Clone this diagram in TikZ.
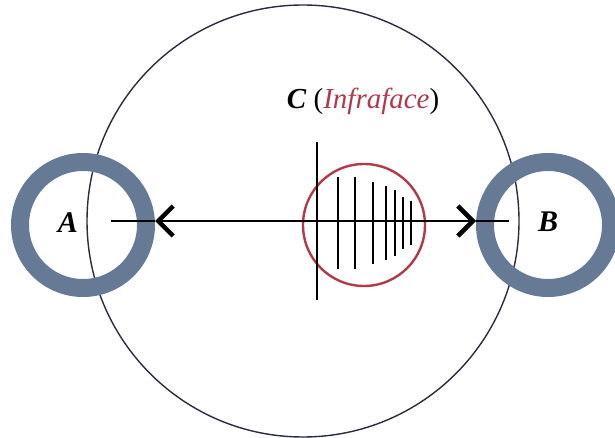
\documentclass[tikz,border=0pt]{standalone}
\usetikzlibrary{positioning, arrows.meta}
\usepackage{xcolor}
\usepackage{fontspec}
\setmainfont{Liberation Serif}
\definecolor{ringblue}{HTML}{667A96}
\definecolor{infrared}{HTML}{B03A4A}
\definecolor{outline}{HTML}{2A2A42}

\begin{document}
\begin{tikzpicture}[x=1pt, y=-1pt]
\useasboundingbox (0,0) rectangle (615,438);

% --- big circle ---
\node [
    draw=outline,
    circle,
    line width=1.4pt,
    minimum size=432pt,
    inner sep=0pt,
] (field) at (303,221) {};

% --- rings A and B ---
\node [
    draw=ringblue,
    circle,
    line width=18pt,
    minimum size=126pt,
    inner sep=0pt,
] (ringa) at (83,225) {};

\node [
    draw=ringblue,
    circle,
    line width=18pt,
    minimum size=126pt,
    inner sep=0pt,
] (ringb) at (548,225) {};

\node [font=\fontsize{30}{32}\selectfont\bfseries\itshape] (labela) at (68,223) {A};
\node [font=\fontsize{30}{32}\selectfont\bfseries\itshape] (labelb) at (548,222) {B};

% --- infraface ---
\node [
    draw=infrared,
    circle,
    line width=2.4pt,
    minimum size=122pt,
    inner sep=0pt,
] (infra) at (364,225) {};

\node [
    font=\fontsize{29}{32}\selectfont,
] (labelc) at (363,101) {\textbf{\textit{C}} (\textcolor{infrared}{\textit{Infraface}})};

\coordinate (axistop) at (317,142);
\coordinate (axisbot) at (317,300);
\coordinate (lineleft) at (111,221);
\coordinate (lineright) at (509,221);
\coordinate (mid) at (364,221);

\draw [line width=1.4pt] (axistop) -- (axisbot);

\foreach \x/\h in {338/45.5, 355/45.5, 373/41, 386/37, 395/33, 403/25.5, 411/22}
    \draw [line width=1.4pt] (\x,223-\h) -- (\x,223+\h);

% --- connections ---
\begin{scope}[line width=2.4pt, -{Straight Barb[length=15pt, width=30pt, line width=4.5pt]}]
\draw (mid) -- (ringa.east |- mid);
\draw (mid) -- (ringb.west |- mid);
\end{scope}

\draw [line width=2.4pt] (ringa.east |- mid) -- (lineleft);
\draw [line width=2.4pt] (ringb.west |- mid) -- (lineright);

\end{tikzpicture}
\end{document}
